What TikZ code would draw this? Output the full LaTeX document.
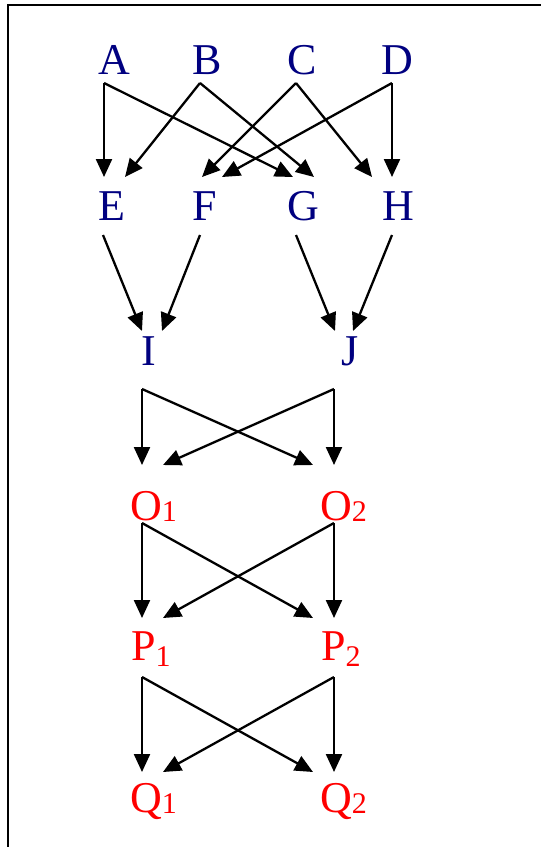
\documentclass[tikz,border=0pt]{standalone}
\usepackage{fontspec}
\setmainfont{Liberation Serif}
\usetikzlibrary{arrows.meta}
\definecolor{navyblue}{HTML}{000080}
\definecolor{pred}{HTML}{FF0000}
\newcommand\sbs[2][0pt]{\rlap{\raisebox{-#1}{\fontsize{30}{30}\selectfont #2}}}
\begin{document}
\begin{tikzpicture}[x=1pt,y=-1pt,
  lbl/.style={font=\fontsize{44}{44}\selectfont, inner sep=0pt, anchor=base},
  blu/.style={lbl, text=navyblue},
  rd/.style={lbl, text=pred},
  arr/.style={line width=2.3pt, -{Triangle[length=18pt,width=16pt]}},
  frame/.style={line width=2.2pt}]
\useasboundingbox (0,0) rectangle (541,847);
\draw[frame] (541,5) -- (7.6,5) -- (7.6,847);
% text nodes
\node[blu] (A) at (114.5,74) {A};
\node[blu] (B) at (207,74) {B};
\node[blu] (C) at (302,74) {C};
\node[blu] (D) at (397,74) {D};
\node[blu] (E) at (112,220) {E};
\node[blu] (F) at (205,220) {F};
\node[blu] (G) at (303,220) {G};
\node[blu] (H) at (398,220) {H};
\node[blu] (I) at (149,365) {I};
\node[blu] (J) at (350,365) {J};
\node[rd] (O1) at (146,520) {O\sbs[1pt]{1}};
\node[rd] (O2) at (336,520) {O\sbs[1pt]{2}};
\node[rd] (P1) at (143.5,660) {P\sbs[6pt]{1}};
\node[rd] (P2) at (333.5,660) {P\sbs[6pt]{2}};
\node[rd] (Q1) at (146,812) {Q\sbs[1pt]{1}};
\node[rd] (Q2) at (336,812) {Q\sbs[1pt]{2}};
% connector ends
\coordinate (Ao) at (104,83);
\coordinate (Bo) at (200,83);
\coordinate (Co) at (296,83);
\coordinate (Do) at (392,83);
\coordinate (Ei1) at (104,177);
\coordinate (Ei2) at (125,177);
\coordinate (Fi1) at (202,177);
\coordinate (Fi2) at (222,177);
\coordinate (Gi1) at (293,177);
\coordinate (Gi2) at (314,177);
\coordinate (Hi1) at (372,177);
\coordinate (Hi2) at (392,177);
\coordinate (Eo) at (103,235);
\coordinate (Fo) at (200,235);
\coordinate (Go) at (296,235);
\coordinate (Ho) at (392,235);
\coordinate (Ii1) at (142,331);
\coordinate (Ii2) at (162,331);
\coordinate (Ji1) at (335,331);
\coordinate (Ji2) at (353,331);
\coordinate (Io) at (142,389);
\coordinate (Jo) at (334,389);
\coordinate (O1i1) at (142,465);
\coordinate (O1i2) at (163,465);
\coordinate (O2i1) at (313,465);
\coordinate (O2i2) at (334,465);
\coordinate (O1o) at (142,523);
\coordinate (O2o) at (334,523);
\coordinate (P1i1) at (142,618);
\coordinate (P1i2) at (163,618);
\coordinate (P2i1) at (313,618);
\coordinate (P2i2) at (334,618);
\coordinate (P1o) at (142,677);
\coordinate (P2o) at (334,677);
\coordinate (Q1i1) at (142,772);
\coordinate (Q1i2) at (163,772);
\coordinate (Q2i1) at (313,772);
\coordinate (Q2i2) at (334,772);
% connectors
\draw[arr] (Ao) -- (Ei1);
\draw[arr] (Ao) -- (Gi1);
\draw[arr] (Bo) -- (Ei2);
\draw[arr] (Bo) -- (Gi2);
\draw[arr] (Co) -- (Fi1);
\draw[arr] (Co) -- (Hi1);
\draw[arr] (Do) -- (Fi2);
\draw[arr] (Do) -- (Hi2);
\draw[arr] (Eo) -- (Ii1);
\draw[arr] (Fo) -- (Ii2);
\draw[arr] (Go) -- (Ji1);
\draw[arr] (Ho) -- (Ji2);
\draw[arr] (Io) -- (O1i1);
\draw[arr] (Io) -- (O2i1);
\draw[arr] (Jo) -- (O1i2);
\draw[arr] (Jo) -- (O2i2);
\draw[arr] (O1o) -- (P1i1);
\draw[arr] (O1o) -- (P2i1);
\draw[arr] (O2o) -- (P1i2);
\draw[arr] (O2o) -- (P2i2);
\draw[arr] (P1o) -- (Q1i1);
\draw[arr] (P1o) -- (Q2i1);
\draw[arr] (P2o) -- (Q1i2);
\draw[arr] (P2o) -- (Q2i2);
\end{tikzpicture}
\end{document}
